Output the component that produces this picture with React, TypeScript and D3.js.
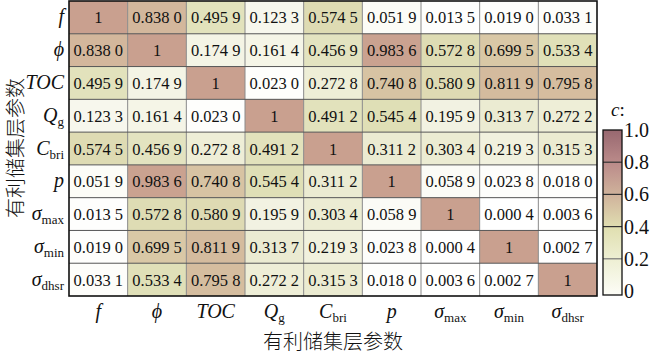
import React from "react";
import * as d3 from "d3";

// ---- data ----
const labelMain = ["f", "ϕ", "TOC", "Q", "C", "p", "σ", "σ", "σ"];
const labelSub = ["", "", "", "g", "bri", "", "max", "min", "dhsr"];
const values: number[][] = [
  [1, 0.838, 0.4959, 0.1233, 0.5745, 0.0519, 0.0135, 0.019, 0.0331],
  [0.838, 1, 0.1749, 0.1614, 0.4569, 0.9836, 0.5728, 0.6995, 0.5334],
  [0.4959, 0.1749, 1, 0.023, 0.2728, 0.7408, 0.5809, 0.8119, 0.7958],
  [0.1233, 0.1614, 0.023, 1, 0.4912, 0.5454, 0.1959, 0.3137, 0.2722],
  [0.5745, 0.4569, 0.2728, 0.4912, 1, 0.3112, 0.3034, 0.2193, 0.3153],
  [0.0519, 0.9836, 0.7408, 0.5454, 0.3112, 1, 0.0589, 0.0238, 0.018],
  [0.0135, 0.5728, 0.5809, 0.1959, 0.3034, 0.0589, 1, 0.0004, 0.0036],
  [0.019, 0.6995, 0.8119, 0.3137, 0.2193, 0.0238, 0.0004, 1, 0.0027],
  [0.0331, 0.5334, 0.7958, 0.2722, 0.3153, 0.018, 0.0036, 0.0027, 1],
];
const colorTicks = [0, 0.2, 0.4, 0.6, 0.8, 1.0];
const colorTickLabels = ["0", "0.2", "0.4", "0.6", "0.8", "1.0"];
const axisTitle = "有利储集层参数";
const legendTitle = "c";

// ---- styles ----
const SERIF = "Liberation Serif, serif";
const CJK = "Noto Sans CJK SC, sans-serif";

const cellColor = d3
  .scaleLinear<string>()
  .domain([0, 0.2, 0.4, 0.55, 0.7, 0.85, 1])
  .range(["#ffffff", "#f2f2e1", "#e6e6c6", "#dfdfb6", "#d9c8a6", "#d2b69b", "#c9a08f"])
  .interpolate(d3.interpolateRgb);

const barStops = [
  { o: 0, c: "#fdfdf7" },
  { o: 0.2, c: "#eff0d6" },
  { o: 0.4, c: "#e1e0b2" },
  { o: 0.6, c: "#d0b49c" },
  { o: 0.8, c: "#bb8b8a" },
  { o: 1, c: "#986870" },
];

function fmt(v: number): string {
  if (v === 1) return "1";
  const s = v.toFixed(4);
  return s.slice(0, 5) + " " + s.slice(5);
}

export default function App() {
  const W = 650;
  const H = 355;
  const n = labelMain.length;
  const idx = d3.range(n);
  const x = d3.scaleBand<number>().domain(idx).range([69, 597]);
  const y = d3.scaleBand<number>().domain(idx).range([1, 296]);
  const cb = d3.scaleLinear().domain([0, 1]).range([291, 130]);
  const barX = 603;
  const barW = 19;
  const barTop = 130;
  const barBottom = 295;

  const renderLabel = (i: number, sizeMain: number) => (
    <>
      <tspan fontStyle="italic" fontSize={sizeMain}>
        {labelMain[i]}
      </tspan>
      {labelSub[i] && (
        <tspan fontSize={13} dy={4}>
          {labelSub[i]}
        </tspan>
      )}
    </>
  );

  return (
    <div style={{ position: "absolute", left: 0, top: 0 }}>
      <svg width={W} height={H} style={{ display: "block", background: "#fff" }}>
        <defs>
          <linearGradient id="cbar" x1="0" y1="1" x2="0" y2="0">
            {barStops.map((s) => (
              <stop key={s.o} offset={s.o} stopColor={s.c} />
            ))}
          </linearGradient>
        </defs>
        {/* cells */}
        {values.map((row, r) =>
          row.map((v, c) => (
            <rect
              key={`c${r}-${c}`}
              x={x(c)}
              y={y(r)}
              width={x.bandwidth()}
              height={y.bandwidth()}
              fill={cellColor(v)}
            />
          ))
        )}
        {/* grid */}
        {idx.slice(1).map((i) => (
          <line
            key={`v${i}`}
            x1={x(i)}
            x2={x(i)}
            y1={y.range()[0]}
            y2={y.range()[1]}
            stroke="#8a8a8a"
            strokeWidth={1}
          />
        ))}
        {idx.slice(1).map((i) => (
          <line
            key={`h${i}`}
            x1={x.range()[0]}
            x2={x.range()[1]}
            y1={y(i)}
            y2={y(i)}
            stroke="#555"
            strokeWidth={1}
          />
        ))}
        <rect
          x={x.range()[0]}
          y={y.range()[0]}
          width={x.range()[1] - x.range()[0]}
          height={y.range()[1] - y.range()[0]}
          fill="none"
          stroke="#111"
          strokeWidth={1.6}
        />
        {/* cell text */}
        {values.map((row, r) =>
          row.map((v, c) => (
            <text
              key={`t${r}-${c}`}
              x={(x(c) as number) + x.bandwidth() / 2}
              y={(y(r) as number) + y.bandwidth() / 2 + 6}
              textAnchor="middle"
              fontFamily={SERIF}
              fontSize={16.5}
              fill="#111"
            >
              {fmt(v)}
            </text>
          ))
        )}
        {/* y labels */}
        {idx.map((i) => (
          <text
            key={`yl${i}`}
            x={64}
            y={(y(i) as number) + y.bandwidth() / 2 + 6}
            textAnchor="end"
            fontFamily={SERIF}
            fill="#111"
          >
            {renderLabel(i, 20)}
          </text>
        ))}
        {/* x labels */}
        {idx.map((i) => (
          <text
            key={`xl${i}`}
            x={(x(i) as number) + x.bandwidth() / 2}
            y={318}
            textAnchor="middle"
            fontFamily={SERIF}
            fill="#111"
          >
            {renderLabel(i, 20)}
          </text>
        ))}
        {/* axis titles */}
        <text
          x={333}
          y={349}
          textAnchor="middle"
          fontFamily={CJK}
          fontWeight={300}
          fontSize={20}
          fill="#111"
        >
          {axisTitle}
        </text>
        <text
          transform={`translate(23,148) rotate(-90)`}
          textAnchor="middle"
          fontFamily={CJK}
          fontWeight={300}
          fontSize={20}
          fill="#111"
        >
          {axisTitle}
        </text>
        {/* colorbar */}
        <rect x={barX} y={barTop} width={barW} height={barBottom - barTop} fill="url(#cbar)" />
        {colorTicks.slice(1, -1).map((t) => (
          <line
            key={`cl${t}`}
            x1={barX}
            x2={barX + barW}
            y1={cb(t)}
            y2={cb(t)}
            stroke={t === 0.2 ? "#777" : "#333"}
            strokeWidth={1.2}
          />
        ))}
        <rect
          x={barX}
          y={barTop}
          width={barW}
          height={barBottom - barTop}
          fill="none"
          stroke="#111"
          strokeWidth={1.3}
        />
        {colorTicks.map((t, i) => (
          <text
            key={`ct${t}`}
            x={624}
            y={cb(t) + 7}
            fontFamily={SERIF}
            fontSize={20}
            fill="#111"
          >
            {colorTickLabels[i]}
          </text>
        ))}
        <text x={611} y={116} fontFamily={SERIF} fontSize={19} fill="#111">
          <tspan fontStyle="italic">{legendTitle}</tspan>:
        </text>
      </svg>
    </div>
  );
}
